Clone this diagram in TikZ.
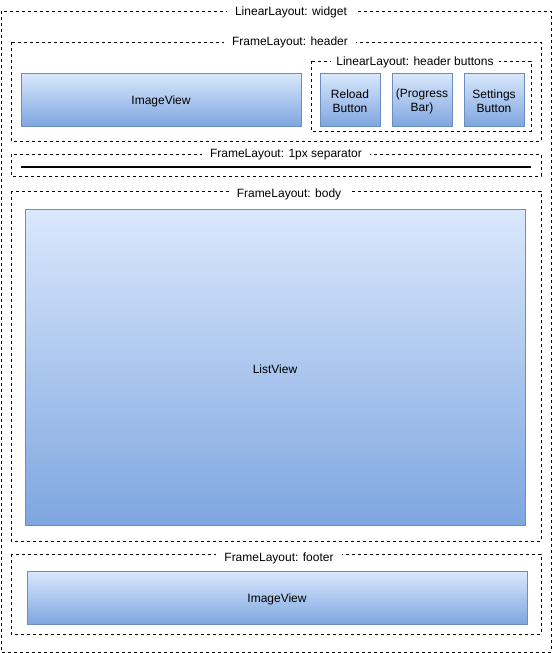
\documentclass[tikz,border=0pt]{standalone}
\usepackage{fontspec}
\setmainfont{Liberation Sans}
\definecolor{viewtop}{HTML}{DAE8FC}
\definecolor{viewbot}{HTML}{7EA6E0}
\definecolor{viewline}{HTML}{6C8EBF}
\tikzset{
  layout/.style={draw, dash pattern=on 2.25pt off 2.25pt, line width=0.75pt},
  layoutlabel/.style={fill=white, inner xsep=6pt, inner ysep=1pt, font=\fontsize{9}{10.5}\selectfont},
  view/.style={draw=viewline, top color=viewtop, bottom color=viewbot, line width=0.75pt},
  viewtext/.style={align=center, yshift=-1.2pt, font=\fontsize{9}{10.5}\selectfont}
}
\begin{document}
\begin{tikzpicture}[x=0.75pt,y=-0.75pt]
\useasboundingbox (0,0) rectangle (553,653);
% widget
\draw[layout] (1,11) rectangle (551,652);
\node[layoutlabel] (widget) at (291,12.5) {LinearLayout: widget};
% header
\draw[layout] (11,42) rectangle (541,141);
\node[layoutlabel] (header) at (290,42.5) {FrameLayout: header};
\draw[view] (21,73) rectangle (301,126);
\node[viewtext] (headimg) at (161,100) {ImageView};
\draw[layout] (311,61) rectangle (531,131);
\node[layoutlabel, inner xsep=4pt] (buttons) at (415,62.5) {LinearLayout: header buttons};
\draw[view] (320,73) rectangle (380,126);
\node[viewtext] (reload) at (350,100) {Reload\\Button};
\draw[view] (392,73) rectangle (452,126);
\node[viewtext] (progress) at (422,100) {(Progress\\Bar)};
\draw[view] (464,73) rectangle (524,126);
\node[viewtext] (settings) at (494,100) {Settings\\Button};
% separator
\draw[layout] (11,154) rectangle (541,176);
\node[layoutlabel] (sep) at (286,155) {FrameLayout: 1px separator};
\draw[line width=1.5pt] (21,166.5) -- (531,166.5);
% body
\draw[layout] (11,191) rectangle (541,541);
\node[layoutlabel] (body) at (289,194) {FrameLayout: body};
\draw[view] (25,209) rectangle (525,525);
\node[viewtext] (list) at (275,368) {ListView};
% footer
\draw[layout] (11,554) rectangle (541,634);
\node[layoutlabel] (footer) at (279,558) {FrameLayout: footer};
\draw[view] (27,571) rectangle (527,624);
\node[viewtext] (footimg) at (277,598) {ImageView};
\end{tikzpicture}
\end{document}
